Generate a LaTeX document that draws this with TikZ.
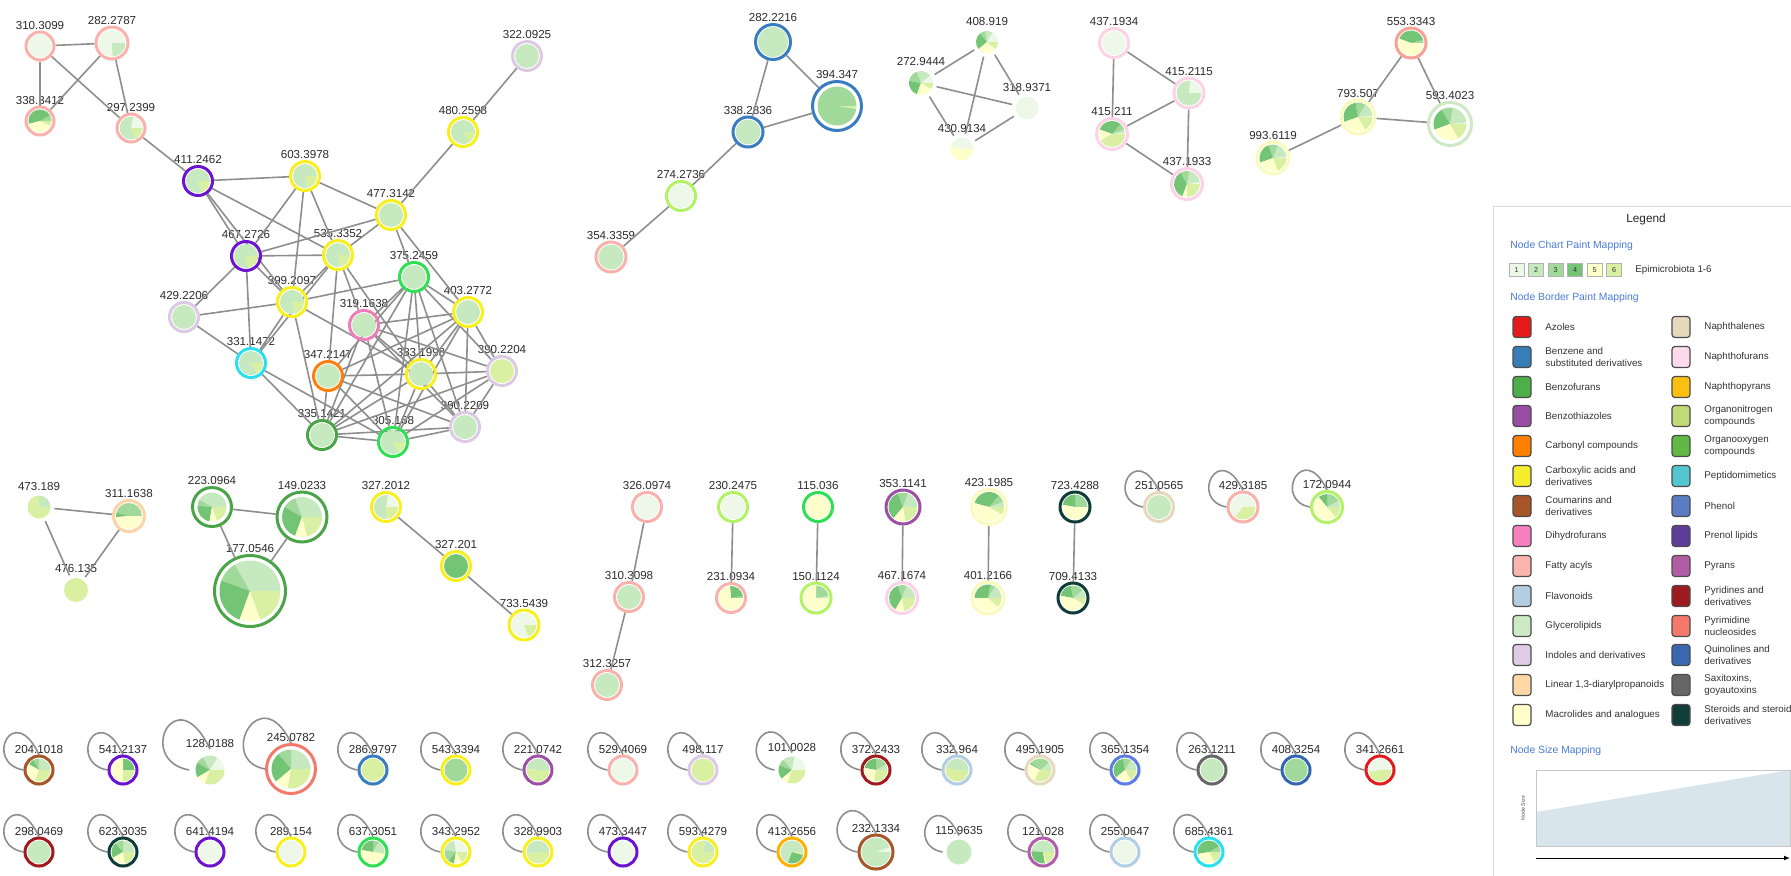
\documentclass[tikz,border=0pt]{standalone}
\usepackage{fontspec}
\setmainfont{Liberation Sans}
\usetikzlibrary{arrows.meta}
% pie colours
\definecolor{pc1}{HTML}{EDF8E9}
\definecolor{pc2}{HTML}{C7E9C0}
\definecolor{pc3}{HTML}{A1D99B}
\definecolor{pc4}{HTML}{74C476}
\definecolor{pc5}{HTML}{FFFFCC}
\definecolor{pc6}{HTML}{D9F0A3}
% border colours
\definecolor{cFat}{HTML}{F9B1AB}
\definecolor{cInd}{HTML}{DCC9E3}
\definecolor{cYel}{HTML}{F7F01E}
\definecolor{cVio}{HTML}{6A14D0}
\definecolor{cBG}{HTML}{2EDF52}
\definecolor{cGrn}{HTML}{4BA548}
\definecolor{cCya}{HTML}{2BE0EE}
\definecolor{cPnk}{HTML}{F07CB8}
\definecolor{cOra}{HTML}{FF7F0E}
\definecolor{cBlu}{HTML}{3A7CC0}
\definecolor{cLim}{HTML}{B2F265}
\definecolor{cNpf}{HTML}{FCD3E6}
\definecolor{cMac}{HTML}{FAFABF}
\definecolor{cGly}{HTML}{CDE9C4}
\definecolor{cPea}{HTML}{FDD3A7}
\definecolor{cBzt}{HTML}{9C4FA3}
\definecolor{cSte}{HTML}{0F3C3A}
\definecolor{cBrn}{HTML}{A65628}
\definecolor{cPyr}{HTML}{F4796B}
\definecolor{cDrd}{HTML}{A01B1F}
\definecolor{cFla}{HTML}{B3CDE3}
\definecolor{cNap}{HTML}{E5D8BD}
\definecolor{cPhe}{HTML}{5B7CE0}
\definecolor{cGry}{HTML}{666666}
\definecolor{cQui}{HTML}{3366B0}
\definecolor{cRed}{HTML}{E41A1C}
\definecolor{cAmb}{HTML}{FFB000}
\definecolor{cPyn}{HTML}{B05CA6}
\definecolor{cSal}{HTML}{F7A197}
% legend colours
\definecolor{lAzo}{HTML}{E41A1C}
\definecolor{lBen}{HTML}{377EB8}
\definecolor{lBzf}{HTML}{4DAF4A}
\definecolor{lBzt}{HTML}{984EA3}
\definecolor{lCar}{HTML}{FF7F00}
\definecolor{lCbx}{HTML}{F4EE2D}
\definecolor{lCou}{HTML}{A65628}
\definecolor{lDih}{HTML}{F781BF}
\definecolor{lFat}{HTML}{FBB4AE}
\definecolor{lFla}{HTML}{B3CDE3}
\definecolor{lGly}{HTML}{CCEBC5}
\definecolor{lInd}{HTML}{DECBE4}
\definecolor{lLin}{HTML}{FED9A6}
\definecolor{lMac}{HTML}{FFFFCC}
\definecolor{lNap}{HTML}{E5D8BD}
\definecolor{lNpf}{HTML}{FDDAEC}
\definecolor{lNpp}{HTML}{FBBF10}
\definecolor{lOrn}{HTML}{C0DA75}
\definecolor{lOro}{HTML}{62B844}
\definecolor{lPep}{HTML}{54C6D0}
\definecolor{lPhe}{HTML}{5B7CC4}
\definecolor{lPre}{HTML}{5E3C99}
\definecolor{lPyn}{HTML}{B15CA5}
\definecolor{lPyr}{HTML}{9B1B1F}
\definecolor{lPym}{HTML}{F4796B}
\definecolor{lQui}{HTML}{3A68B0}
\definecolor{lSax}{HTML}{666666}
\definecolor{lSte}{HTML}{113D3B}
\definecolor{edgegray}{HTML}{8E8E8E}
\definecolor{labtext}{HTML}{2A2A2A}
\definecolor{headblue}{HTML}{4A7BD4}
\definecolor{sizefill}{HTML}{D8E5EC}

\tikzset{
  gn/.style={circle, inner sep=0pt, outer sep=0pt, label distance=1.2pt},
  lbl/.style={font=\fontsize{5.8}{6}\selectfont, text=labtext, inner sep=0.4pt},
  lnk/.style={draw=edgegray, line width=0.8pt},
  lsw/.style={draw=black!70, line width=0.6pt, rounded corners=1.5pt, minimum width=9pt, minimum height=10.5pt, inner sep=0pt},
  ltx/.style={anchor=west, font=\fontsize{4.9}{6.4}\selectfont, text=black!80, align=left, inner sep=0pt},
  cbx/.style={draw=gray!60, line width=0.3pt, minimum width=7.5pt, minimum height=6.5pt, inner sep=0pt, font=\fontsize{3.6}{4}\selectfont, text=black!80},
  bhead/.style={anchor=west, font=\fontsize{5.2}{6}\selectfont, text=headblue, inner sep=0pt},
}

\newcommand{\nd}[5]{\node[gn, minimum size=#4pt, label={[lbl]above:#5}] (#1) at (#2,#3) {};}
\newcommand{\slc}[5]{\ifdim #2pt<#3pt \fill[#4] (#1.center) -- ++(-#2:#5) arc[start angle=-#2, end angle=-#3, radius=#5] -- cycle;\fi}
\newcommand{\pc}[8]{%
  \pgfmathsetmacro\pieR{#2>20 ? #2-6.5 : #2-4}%
  \slc{#1}{0}{#4}{pc1}{\pieR}%
  \slc{#1}{#4}{#5}{pc2}{\pieR}%
  \slc{#1}{#5}{#6}{pc3}{\pieR}%
  \slc{#1}{#6}{#7}{pc4}{\pieR}%
  \slc{#1}{#7}{#8}{pc5}{\pieR}%
  \slc{#1}{#8}{360}{pc6}{\pieR}%
  \pgfmathsetmacro\bordR{#2-1.5}%
  \draw[line width=1.5pt, draw=#3] (#1.center) circle[radius=\bordR];}
\newcommand{\sloop}[2]{\draw[lnk] (#1.west) .. controls +(-2.7*#2,-0.5*#2) and +(-1.7*#2,-3.6*#2) .. (#1.north);}
\newcommand{\li}[5]{\node[lsw, fill=#4] (#1s) at (#2,#3) {}; \node[ltx] (#1t) at (#2+23,#3) {#5};}

\begin{document}
\begin{tikzpicture}[x=0.5pt, y=-0.5pt]
\useasboundingbox (0,0) rectangle (1791,875);
\clip (0,0) rectangle (1791,875);

% ---------- nodes ----------
\nd{a1}{40}{46}{15.5}{310.3099}
\nd{a2}{112}{43}{17.5}{282.2787}
\nd{a3}{40}{121}{15.5}{338.3412}
\nd{a4}{131}{128}{15.5}{297.2399}
\nd{m322}{527}{56}{16}{322.0925}
\nd{m480}{463}{132}{16}{480.2598}
\nd{m411}{198}{181}{16}{411.2462}
\nd{m603}{305}{176}{16}{603.3978}
\nd{m477}{391}{215}{16}{477.3142}
\nd{m467}{246}{256}{16}{467.2726}
\nd{m535}{338}{255}{16}{535.3352}
\nd{m375}{414}{277}{16}{375.2459}
\nd{m399}{292}{302}{16}{399.2097}
\nd{m429}{184}{317}{16}{429.2206}
\nd{m403}{468}{312}{16}{403.2772}
\nd{m319}{364}{325}{16}{319.1638}
\nd{m331}{251}{363}{16}{331.1472}
\nd{m347}{328}{376}{16}{347.2147}
\nd{m383}{421}{374}{16}{383.1998}
\nd{mA}{502}{371}{16}{390.2204}
\nd{m335}{322}{435}{16}{335.1421}
\nd{m305}{393}{442}{16}{305.168}
\nd{mB}{465}{427}{16}{390.2209}

\nd{b1}{773}{42}{19}{282.2216}
\nd{b2}{837}{106}{26}{394.347}
\nd{b3}{748}{132}{16.5}{338.2836}
\nd{b4}{681}{196}{16}{274.2736}
\nd{b5}{611}{257}{16.5}{354.3359}

\nd{c1}{987}{42}{15}{408.919}
\nd{c2}{921}{83}{16}{272.9444}
\nd{c3}{1027}{108}{15.5}{318.9371}
\nd{c4}{962}{149}{15.5}{430.9134}

\nd{d1}{1114}{43}{16}{437.1934}
\nd{d2}{1189}{93}{16.5}{415.2115}
\nd{d3}{1112}{134}{17}{415.211}
\nd{d4}{1187}{184}{17}{437.1933}

\nd{e1}{1411}{43}{16.5}{553.3343}
\nd{e2}{1358}{117}{18.5}{793.507}
\nd{e3}{1450}{124}{23}{593.4023}
\nd{e4}{1273}{158}{17.5}{993.6119}

\nd{f1}{39}{507}{15.5}{473.189}
\nd{f2}{129}{516}{17}{311.1638}
\nd{f3}{76}{590}{16}{476.135}
\nd{g1}{212}{507}{21}{223.0964}
\nd{g2}{302}{517}{26.5}{149.0233}
\nd{g3}{250}{591}{37}{177.0546}
\nd{h1}{386}{507}{16}{327.2012}
\nd{h2}{456}{566}{16}{327.201}
\nd{h3}{524}{625}{16.5}{733.5439}
\nd{i1}{647}{507}{16}{326.0974}
\nd{i2}{629}{597}{16}{310.3098}
\nd{i3}{607}{685}{16}{312.3257}
\nd{j1}{733}{507}{16}{230.2475}
\nd{j2}{731}{598}{16}{231.0934}
\nd{k1}{818}{507}{16}{115.036}
\nd{k2}{816}{598}{16.5}{150.1124}
\nd{l1}{903}{507}{18.5}{353.1141}
\nd{l2}{902}{598}{17}{467.1674}
\nd{o1}{989}{507}{19}{423.1985}
\nd{o2}{988}{598}{17.5}{401.2166}
\nd{q1}{1075}{507}{16.5}{723.4288}
\nd{q2}{1073}{598}{16.5}{709.4133}
\nd{s1}{1159}{507}{16}{251.0565}
\nd{s2}{1243}{507}{16.5}{429.3185}
\nd{s3}{1327}{507}{17}{172.0944}

\nd{t1}{39}{770}{15.5}{204.1018}
\nd{t2}{123}{770}{15.5}{541.2137}
\nd{t3}{210}{770}{21}{128.0188}
\nd{t4}{291}{769}{26}{245.0782}
\nd{t5}{373}{770}{15.5}{286.9797}
\nd{t6}{456}{770}{15.5}{543.3394}
\nd{t7}{538}{770}{15.5}{221.0742}
\nd{t8}{623}{770}{15.5}{529.4069}
\nd{t9}{703}{770}{15.5}{498.117}
\nd{t10}{792}{770}{17.5}{101.0028}
\nd{t11}{876}{770}{15.5}{372.2433}
\nd{t12}{957}{770}{15.5}{332.964}
\nd{t13}{1040}{770}{15.5}{495.1905}
\nd{t14}{1125}{770}{15.5}{365.1354}
\nd{t15}{1212}{770}{15.5}{263.1211}
\nd{t16}{1296}{770}{15.5}{408.3254}
\nd{t17}{1380}{770}{15.5}{341.2661}

\nd{u1}{39}{852}{15.5}{298.0469}
\nd{u2}{123}{852}{15.5}{623.3035}
\nd{u3}{210}{852}{15.5}{641.4194}
\nd{u4}{291}{852}{15.5}{289.154}
\nd{u5}{373}{852}{15.5}{637.3051}
\nd{u6}{456}{852}{15.5}{343.2952}
\nd{u7}{538}{852}{15.5}{328.9903}
\nd{u8}{623}{852}{15.5}{473.3447}
\nd{u9}{703}{852}{15.5}{593.4279}
\nd{u10}{792}{852}{15.5}{413.2656}
\nd{u11}{876}{852}{18.5}{232.1334}
\nd{u12}{959}{852}{16.5}{115.9635}
\nd{u13}{1043}{852}{15.5}{121.028}
\nd{u14}{1125}{852}{15.5}{255.0647}
\nd{u15}{1209}{852}{15.5}{685.4361}

% ---------- edges ----------
\foreach \p/\q in {a1/a2,a1/a3,a1/a4,a2/a3,a2/a4,a4/m411,
  m322/m480,m480/m477,
  m411/m603,m411/m467,m411/m399,m411/m535,
  m603/m477,m603/m467,m603/m399,m603/m535,
  m477/m467,m477/m535,m477/m375,m477/m403,
  m467/m535,m467/m399,m467/m429,m467/m331,
  m535/m399,m535/m331,m535/m347,m535/m319,m535/m383,
  m399/m429,m399/m375,m399/m331,m399/m335,m399/m383,
  m429/m331,m331/m335,m331/m305,
  m375/m319,m375/m347,m375/m335,m375/m305,m375/m383,m375/m403,m375/mB,m375/mA,
  m403/m319,m403/m347,m403/m383,m403/m335,m403/m305,m403/mA,m403/mB,
  m319/m383,m319/mA,m319/m305,m319/m335,m319/mB,
  m347/m383,m347/m335,m347/m305,m347/mB,
  m383/mA,m383/m335,m383/m305,m383/mB,
  mA/m305,mA/m335,mA/mB,m335/m305,m305/mB,m335/mB,
  b1/b2,b1/b3,b3/b2,b3/b4,b4/b5,
  c1/c2,c1/c3,c1/c4,c2/c3,c2/c4,c3/c4,
  d1/d2,d1/d3,d2/d3,d2/d4,d3/d4,
  e1/e2,e1/e3,e2/e3,e2/e4,
  f1/f2,f1/f3,f2/f3,g1/g2,g1/g3,g2/g3,h1/h2,h2/h3,
  i1/i2,i2/i3,j1/j2,k1/k2,l1/l2,o1/o2,q1/q2}
  {\draw[lnk] (\p) -- (\q);}

\foreach \n/\s in {s1/14,s2/14,s3/14,t1/15,t2/15,t3/20,t4/18,t5/15,t6/15,t7/15,t8/15,t9/15,t10/14.5,t11/15,t12/15,t13/15,t14/15,t15/15,t16/15,t17/15,
  u1/15,u2/15,u3/15,u4/15,u5/15,u6/15,u7/15,u8/15,u9/15,u10/15,u11/16,u12/14,u13/15,u14/15,u15/15}
  {\sloop{\n}{\s}}

% ---------- pies ----------
\pc{a1}{15.5}{cFat}{360}{360}{360}{360}{360}
\pc{a2}{17.5}{cFat}{272}{360}{360}{360}{360}
\pc{a3}{15.5}{cFat}{0}{0}{30}{195}{335}
\pc{a4}{15.5}{cFat}{80}{295}{295}{295}{295}
\pc{m322}{16}{cInd}{0}{360}{360}{360}{360}
\pc{m480}{16}{cYel}{0}{300}{300}{300}{300}
\pc{m411}{16}{cVio}{0}{290}{290}{290}{290}
\pc{m603}{16}{cYel}{0}{285}{285}{285}{285}
\pc{m477}{16}{cYel}{0}{360}{360}{360}{360}
\pc{m467}{16}{cVio}{0}{280}{280}{280}{280}
\pc{m535}{16}{cYel}{0}{285}{285}{285}{285}
\pc{m375}{16}{cBG}{0}{360}{360}{360}{360}
\pc{m399}{16}{cYel}{0}{285}{285}{285}{285}
\pc{m429}{16}{cInd}{0}{360}{360}{360}{360}
\pc{m403}{16}{cYel}{0}{360}{360}{360}{360}
\pc{m319}{16}{cPnk}{0}{360}{360}{360}{360}
\pc{m331}{16}{cCya}{0}{300}{300}{300}{300}
\pc{m347}{16}{cOra}{0}{360}{360}{360}{360}
\pc{m383}{16}{cYel}{0}{360}{360}{360}{360}
\pc{mA}{16}{cInd}{0}{0}{0}{0}{0}
\pc{m335}{16}{cGrn}{0}{360}{360}{360}{360}
\pc{m305}{16}{cBG}{0}{300}{300}{300}{300}
\pc{mB}{16}{cInd}{0}{360}{360}{360}{360}

\pc{b1}{19}{cBlu}{0}{360}{360}{360}{360}
\pc{b2}{26}{cBlu}{0}{0}{352}{352}{352}
\pc{b3}{16.5}{cBlu}{0}{360}{360}{360}{360}
\pc{b4}{16}{cLim}{360}{360}{360}{360}{360}
\pc{b5}{16.5}{cFat}{0}{360}{360}{360}{360}

\pc{c1}{15}{none}{60}{100}{130}{220}{320}
\pc{c2}{16}{none}{40}{110}{170}{250}{330}
\pc{c3}{15.5}{none}{360}{360}{360}{360}{360}
\pc{c4}{15.5}{none}{165}{165}{165}{165}{360}

\pc{d1}{16}{cNpf}{360}{360}{360}{360}{360}
\pc{d2}{16.5}{cNpf}{85}{360}{360}{360}{360}
\pc{d3}{17}{cNpf}{5}{20}{50}{160}{210}
\pc{d4}{17}{cNpf}{10}{80}{120}{250}{270}

\pc{e1}{16.5}{cSal}{0}{0}{15}{160}{360}
\pc{e2}{18.5}{cMac}{5}{60}{100}{200}{300}
\pc{e3}{23}{cGly}{5}{80}{120}{200}{300}
\pc{e4}{17.5}{cMac}{5}{70}{110}{200}{290}

\pc{f1}{15.5}{none}{0}{90}{90}{90}{90}
\pc{f2}{17}{cPea}{0}{0}{165}{185}{360}
\pc{f3}{16}{none}{0}{0}{0}{0}{0}
\pc{g1}{21}{cGrn}{0}{150}{175}{260}{290}
\pc{g2}{26.5}{cGrn}{0}{110}{150}{250}{285}
\pc{g3}{37}{cGrn}{0}{120}{160}{250}{290}
\pc{h1}{16}{cYel}{80}{270}{270}{270}{270}
\pc{h2}{16}{cYel}{0}{0}{0}{360}{360}
\pc{h3}{16.5}{cYel}{290}{290}{290}{290}{290}
\pc{i1}{16}{cFat}{360}{360}{360}{360}{360}
\pc{i2}{16}{cFat}{0}{360}{360}{360}{360}
\pc{i3}{16}{cFat}{0}{360}{360}{360}{360}
\pc{j1}{16}{cLim}{360}{360}{360}{360}{360}
\pc{j2}{16}{cFat}{0}{0}{10}{95}{360}
\pc{k1}{16}{cBG}{0}{0}{0}{0}{360}
\pc{k2}{16.5}{cLim}{0}{10}{90}{90}{360}
\pc{l1}{18.5}{cBzt}{0}{70}{110}{230}{280}
\pc{l2}{17}{cNpf}{0}{70}{110}{240}{280}
\pc{o1}{19}{cMac}{0}{20}{50}{165}{330}
\pc{o2}{17.5}{cMac}{0}{60}{80}{180}{320}
\pc{q1}{16.5}{cSte}{0}{0}{90}{170}{360}
\pc{q2}{16.5}{cSte}{0}{40}{100}{170}{330}
\pc{s1}{16}{cNap}{0}{360}{360}{360}{360}
\pc{s2}{16.5}{cFat}{230}{230}{230}{230}{230}
\pc{s3}{17}{cLim}{0}{30}{90}{130}{310}

\pc{t1}{15.5}{cBrn}{0}{90}{120}{150}{250}
\pc{t2}{15.5}{cVio}{0}{0}{0}{90}{270}
\pc{t3}{21}{none}{60}{120}{150}{210}{250}
\pc{t4}{26}{cPyr}{0}{90}{130}{220}{260}
\pc{t5}{15.5}{cBlu}{0}{0}{0}{0}{0}
\pc{t6}{15.5}{cYel}{0}{0}{360}{360}{360}
\pc{t7}{15.5}{cBzt}{0}{175}{175}{175}{175}
\pc{t8}{15.5}{cFat}{360}{360}{360}{360}{360}
\pc{t9}{15.5}{cInd}{0}{0}{0}{0}{0}
\pc{t10}{17.5}{none}{80}{130}{160}{220}{250}
\pc{t11}{15.5}{cDrd}{0}{30}{90}{170}{260}
\pc{t12}{15.5}{cFla}{0}{170}{170}{170}{170}
\pc{t13}{15.5}{cNap}{0}{40}{140}{150}{240}
\pc{t14}{15.5}{cPhe}{0}{60}{100}{220}{300}
\pc{t15}{15.5}{cGry}{0}{360}{360}{360}{360}
\pc{t16}{15.5}{cQui}{0}{0}{360}{360}{360}
\pc{t17}{15.5}{cRed}{190}{190}{190}{190}{190}

\pc{u1}{15.5}{cDrd}{0}{360}{360}{360}{360}
\pc{u2}{15.5}{cSte}{0}{90}{130}{210}{280}
\pc{u3}{15.5}{cVio}{360}{360}{360}{360}{360}
\pc{u4}{15.5}{cYel}{360}{360}{360}{360}{360}
\pc{u5}{15.5}{cBG}{0}{60}{90}{170}{350}
\pc{u6}{15.5}{cYel}{100}{170}{230}{260}{300}
\pc{u7}{15.5}{cYel}{0}{190}{190}{190}{190}
\pc{u8}{15.5}{cVio}{360}{360}{360}{360}{360}
\pc{u9}{15.5}{cYel}{0}{80}{80}{80}{80}
\pc{u10}{15.5}{cAmb}{0}{250}{250}{345}{345}
\pc{u11}{18.5}{cBrn}{20}{360}{360}{360}{360}
\pc{u12}{16.5}{none}{0}{360}{360}{360}{360}
\pc{u13}{15.5}{cPyn}{0}{170}{180}{280}{290}
\pc{u14}{15.5}{cFla}{360}{360}{360}{360}{360}
\pc{u15}{15.5}{cCya}{0}{0}{30}{190}{300}

% ---------- legend ----------
\draw[draw=gray!30, line width=0.5pt] (1493,206) rectangle (1800,890);
\node[font=\fontsize{5.9}{7}\selectfont, text=black!85] (legt) at (1646,219) {Legend};
\node[bhead] (hchart) at (1510,246) {Node Chart Paint Mapping};
\node[cbx, fill=pc1] (cb1) at (1516.5,270) {1};
\node[cbx, fill=pc2] (cb2) at (1536,270) {2};
\node[cbx, fill=pc3] (cb3) at (1555.5,270) {3};
\node[cbx, fill=pc4] (cb4) at (1575,270) {4};
\node[cbx, fill=pc5] (cb5) at (1594.5,270) {5};
\node[cbx, fill=pc6] (cb6) at (1614,270) {6};
\node[ltx] (epi) at (1635,270) {Epimicrobiota 1-6};
\node[bhead] (hborder) at (1510,298) {Node Border Paint Mapping};

\li{L1}{1522}{327}{lAzo}{Azoles}
\li{L2}{1522}{357}{lBen}{Benzene and\\substituted derivatives}
\li{L3}{1522}{387}{lBzf}{Benzofurans}
\li{L4}{1522}{416}{lBzt}{Benzothiazoles}
\li{L5}{1522}{446}{lCar}{Carbonyl compounds}
\li{L6}{1522}{476}{lCbx}{Carboxylic acids and\\derivatives}
\li{L7}{1522}{506}{lCou}{Coumarins and\\derivatives}
\li{L8}{1522}{536}{lDih}{Dihydrofurans}
\li{L9}{1522}{566}{lFat}{Fatty acyls}
\li{L10}{1522}{596}{lFla}{Flavonoids}
\li{L11}{1522}{626}{lGly}{Glycerolipids}
\li{L12}{1522}{655}{lInd}{Indoles and derivatives}
\li{L13}{1522}{685}{lLin}{Linear 1,3-diarylpropanoids}
\li{L14}{1522}{715}{lMac}{Macrolides and analogues}

\li{R1}{1681}{327}{lNap}{Naphthalenes}
\li{R2}{1681}{357}{lNpf}{Naphthofurans}
\li{R3}{1681}{387}{lNpp}{Naphthopyrans}
\li{R4}{1681}{416}{lOrn}{Organonitrogen\\compounds}
\li{R5}{1681}{446}{lOro}{Organooxygen\\compounds}
\li{R6}{1681}{476}{lPep}{Peptidomimetics}
\li{R7}{1681}{506}{lPhe}{Phenol}
\li{R8}{1681}{536}{lPre}{Prenol lipids}
\li{R9}{1681}{566}{lPyn}{Pyrans}
\li{R10}{1681}{596}{lPyr}{Pyridines and\\derivatives}
\li{R11}{1681}{626}{lPym}{Pyrimidine\\nucleosides}
\li{R12}{1681}{655}{lQui}{Quinolines and\\derivatives}
\li{R13}{1681}{685}{lSax}{Saxitoxins,\\goyautoxins}
\li{R14}{1681}{715}{lSte}{Steroids and steroid\\derivatives}

\node[bhead] (hsize) at (1510,751) {Node Size Mapping};
\fill[sizefill] (1536,846) -- (1536,812) -- (1790,770) -- (1790,846) -- cycle;
\draw[draw=gray!45, line width=0.3pt] (1536,770) rectangle (1790,846);
\node[rotate=90, font=\fontsize{2.6}{3}\selectfont, text=black!70] (nsz) at (1523,808) {Node Size};
\coordinate (axs) at (1536,858);
\coordinate (axe) at (1790,858);
\draw[line width=0.5pt, -{Latex[length=3pt,width=2.4pt]}] (axs) -- (axe);
\end{tikzpicture}
\end{document}
